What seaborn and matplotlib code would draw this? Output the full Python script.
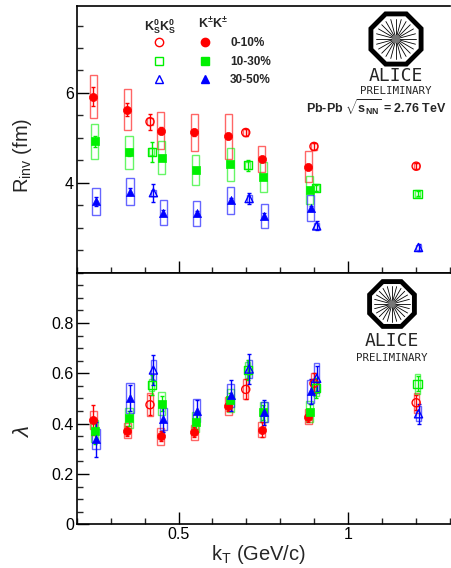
import numpy as np
import matplotlib
matplotlib.use("Agg")
import matplotlib.pyplot as plt
from matplotlib.patches import RegularPolygon
from matplotlib.lines import Line2D
import seaborn as sns

# ---- DATA ----
# charged kaons K+-K+-, kT bins
kt_ch_0_10 = [0.249, 0.349, 0.447, 0.547, 0.647, 0.745, 0.882]
kt_ch_10_30 = [0.253, 0.354, 0.450, 0.551, 0.652, 0.750, 0.887]
kt_ch_30_50 = [0.257, 0.357, 0.455, 0.554, 0.654, 0.753, 0.890]

# neutral kaons K0s K0s
kt_k0_0_10 = [0.416, 0.698, 0.899, 1.200]
kt_k0_10_30 = [0.421, 0.704, 0.905, 1.204]
kt_k0_30_50 = [0.426, 0.708, 0.907, 1.207]

# R_inv (fm)
r_ch_0_10 = [5.92, 5.63, 5.16, 5.12, 5.04, 4.52, 4.36]
r_ch_0_10_stat = [0.22, 0.15, 0.08, 0.07, 0.07, 0.06, 0.06]
r_ch_0_10_sys = [0.47, 0.45, 0.41, 0.41, 0.50, 0.29, 0.35]
r_ch_10_30 = [4.92, 4.68, 4.56, 4.28, 4.41, 4.13, 3.84]
r_ch_10_30_stat = [0.12, 0.08, 0.06, 0.06, 0.06, 0.05, 0.05]
r_ch_10_30_sys = [0.39, 0.37, 0.36, 0.34, 0.36, 0.33, 0.31]
r_ch_30_50 = [3.59, 3.80, 3.33, 3.32, 3.61, 3.26, 3.43]
r_ch_30_50_stat = [0.10, 0.08, 0.06, 0.06, 0.06, 0.06, 0.06]
r_ch_30_50_sys = [0.30, 0.30, 0.28, 0.28, 0.30, 0.27, 0.29]

r_k0_0_10 = [5.36, 5.12, 4.81, 4.37]
r_k0_0_10_stat = [0.18, 0.07, 0.07, 0.07]
r_k0_0_10_sys = [0.08, 0.07, 0.07, 0.07]
r_k0_10_30 = [4.69, 4.39, 3.89, 3.76]
r_k0_10_30_stat = [0.22, 0.12, 0.07, 0.06]
r_k0_10_30_sys = [0.08, 0.08, 0.08, 0.07]
r_k0_30_50 = [3.78, 3.65, 3.04, 2.56]
r_k0_30_50_stat = [0.20, 0.12, 0.10, 0.08]
r_k0_30_50_sys = [0.07, 0.07, 0.07, 0.06]

# lambda
l_ch_0_10 = [0.414, 0.371, 0.349, 0.365, 0.470, 0.375, 0.428]
l_ch_0_10_stat = [0.06, 0.02, 0.02, 0.02, 0.02, 0.03, 0.02]
l_ch_0_10_sys = [0.035, 0.030, 0.035, 0.030, 0.035, 0.030, 0.030]
l_ch_10_30 = [0.370, 0.421, 0.479, 0.408, 0.492, 0.445, 0.448]
l_ch_10_30_stat = [0.05, 0.03, 0.03, 0.03, 0.03, 0.03, 0.03]
l_ch_10_30_sys = [0.045, 0.040, 0.045, 0.040, 0.045, 0.040, 0.040]
l_ch_30_50 = [0.338, 0.502, 0.418, 0.452, 0.512, 0.445, 0.528]
l_ch_30_50_stat = [0.07, 0.05, 0.05, 0.04, 0.06, 0.05, 0.05]
l_ch_30_50_sys = [0.040, 0.060, 0.045, 0.045, 0.045, 0.040, 0.045]

l_k0_0_10 = [0.475, 0.536, 0.560, 0.483]
l_k0_0_10_stat = [0.04, 0.04, 0.04, 0.03]
l_k0_0_10_sys = [0.045, 0.040, 0.040, 0.040]
l_k0_10_30 = [0.553, 0.613, 0.540, 0.559]
l_k0_10_30_stat = [0.04, 0.04, 0.04, 0.03]
l_k0_10_30_sys = [0.025, 0.030, 0.030, 0.040]
l_k0_30_50 = [0.613, 0.617, 0.580, 0.439]
l_k0_30_50_stat = [0.06, 0.06, 0.05, 0.04]
l_k0_30_50_sys = [0.040, 0.035, 0.060, 0.030]

cent_labels = ["0-10%", "10-30%", "30-50%"]
colors = ["#ff0000", "#00f000", "#0000ff"]
markers = ["o", "s", "^"]

# ---- STYLE ----
sns.set_theme(style="ticks")
plt.rcParams["font.family"] = ["Liberation Sans", "DejaVu Sans"]
plt.rcParams["mathtext.fontset"] = "custom"
plt.rcParams["mathtext.rm"] = "Liberation Sans"
plt.rcParams["mathtext.bf"] = "Liberation Sans:bold"
plt.rcParams["mathtext.it"] = "Liberation Sans:italic"

fig = plt.figure(figsize=(4.51, 5.68), dpi=100)
ax1 = fig.add_axes([0.170, 0.520, 0.828, 0.469])
ax2 = fig.add_axes([0.170, 0.077, 0.828, 0.443], sharex=ax1)


def draw(ax, x, y, stat, sys, color, marker, filled, w):
    # sys boxes, stat bars, then markers
    ax.bar(x, 2 * np.array(sys), bottom=np.array(y) - np.array(sys), width=w,
           fill=False, edgecolor=color, linewidth=1.0, alpha=0.6, zorder=2)
    ax.errorbar(x, y, yerr=stat, fmt="none", ecolor=color, elinewidth=1.0,
                capsize=1.5, capthick=1.0, zorder=3)
    if filled:
        sns.scatterplot(x=x, y=y, ax=ax, marker=marker, s=34, color=color,
                        edgecolor=color, linewidth=0.5, legend=False, zorder=4)
    else:
        sns.scatterplot(x=x, y=y, ax=ax, marker=marker, s=34, color=color,
                        facecolor="none", edgecolor=color, linewidth=1.0,
                        legend=False, zorder=4)


ch_x = [kt_ch_0_10, kt_ch_10_30, kt_ch_30_50]
k0_x = [kt_k0_0_10, kt_k0_10_30, kt_k0_30_50]
r_ch = [(r_ch_0_10, r_ch_0_10_stat, r_ch_0_10_sys),
        (r_ch_10_30, r_ch_10_30_stat, r_ch_10_30_sys),
        (r_ch_30_50, r_ch_30_50_stat, r_ch_30_50_sys)]
r_k0 = [(r_k0_0_10, r_k0_0_10_stat, r_k0_0_10_sys),
        (r_k0_10_30, r_k0_10_30_stat, r_k0_10_30_sys),
        (r_k0_30_50, r_k0_30_50_stat, r_k0_30_50_sys)]
l_ch = [(l_ch_0_10, l_ch_0_10_stat, l_ch_0_10_sys),
        (l_ch_10_30, l_ch_10_30_stat, l_ch_10_30_sys),
        (l_ch_30_50, l_ch_30_50_stat, l_ch_30_50_sys)]
l_k0 = [(l_k0_0_10, l_k0_0_10_stat, l_k0_0_10_sys),
        (l_k0_10_30, l_k0_10_30_stat, l_k0_10_30_sys),
        (l_k0_30_50, l_k0_30_50_stat, l_k0_30_50_sys)]

for i in range(3):
    draw(ax1, ch_x[i], *r_ch[i], colors[i], markers[i], True, 0.021)
    draw(ax1, k0_x[i], *r_k0[i], colors[i], markers[i], False, 0.015)
    draw(ax2, ch_x[i], *l_ch[i], colors[i], markers[i], True, 0.021)
    draw(ax2, k0_x[i], *l_k0[i], colors[i], markers[i], False, 0.015)

# ---- AXES ----
ax1.set_xlim(0.2, 1.3)
ax1.set_ylim(2.0, 7.93)
ax2.set_ylim(0.0, 1.0)

for ax in (ax1, ax2):
    ax.spines["right"].set_visible(False)
    for s in ax.spines.values():
        s.set_linewidth(1.2)
        s.set_color("black")
    ax.tick_params(which="major", direction="in", length=8.5, width=1.0,
                   labelsize=11.5, colors="black", pad=2)
    ax.tick_params(which="minor", direction="in", length=4.3, width=1.0)
    ax.xaxis.set_major_locator(matplotlib.ticker.MultipleLocator(0.5))
    ax.xaxis.set_minor_locator(matplotlib.ticker.MultipleLocator(0.1))
    ax.xaxis.set_major_formatter(matplotlib.ticker.FormatStrFormatter("%g"))

ax1.set_yticks([4, 6])
ax1.yaxis.set_minor_locator(matplotlib.ticker.MultipleLocator(0.5))
ax2.set_yticks([0, 0.2, 0.4, 0.6, 0.8])
ax2.yaxis.set_minor_locator(matplotlib.ticker.MultipleLocator(0.05))
ax2.yaxis.set_major_formatter(matplotlib.ticker.FormatStrFormatter("%g"))
ax1.tick_params(labelbottom=False)

ax1.set_ylabel(r"R$_{\mathrm{inv}}$ (fm)", fontsize=14.5)
ax1.yaxis.set_label_coords(-0.115, 0.44)
ax2.set_ylabel(r"$\lambda$", fontsize=16)
ax2.yaxis.set_label_coords(-0.115, 0.37)
ax2.set_xlabel(r"k$_{\mathrm{T}}$ (GeV/c)", fontsize=14.5, labelpad=1)
ax2.xaxis.set_label_coords(0.486, -0.075)

# ---- LEGEND ----
handles = []
for i in range(3):
    handles.append(Line2D([], [], ls="none", marker=markers[i], ms=6,
                          mfc="none", mec=colors[i], mew=1.0))
for i in range(3):
    handles.append(Line2D([], [], ls="none", marker=markers[i], ms=6,
                          mfc=colors[i], mec=colors[i]))
ax1.legend(handles, ["", "", ""] + cent_labels, ncol=2, frameon=False,
           loc="upper left", bbox_to_anchor=(0.19, 0.905),
           prop={"weight": "bold", "size": 8.5}, handlelength=1.0,
           handletextpad=1.6, columnspacing=1.3, labelspacing=0.55,
           borderpad=0)
ax1.text(0.223, 0.925, r"$\mathbf{K^0_S K^0_S}$", transform=ax1.transAxes,
         fontsize=9, ha="center", va="center")
ax1.text(0.366, 0.935, r"$\mathbf{K^{\pm}K^{\pm}}$", transform=ax1.transAxes,
         fontsize=9, ha="center", va="center")
ax1.text(0.802, 0.618, r"Pb-Pb $\mathbf{\sqrt{s_{NN}}}$ = 2.76 TeV",
         transform=ax1.transAxes, fontsize=9, fontweight="bold",
         ha="center", va="center")


# ---- ALICE logos ----
def alice_logo(cx, cy, r_px, text_y, prel_y, big=13, small=7.8):
    W, H = 451.0, 568.0
    lax = fig.add_axes([(cx - r_px) / W, 1 - (cy + r_px) / H,
                        2 * r_px / W, 2 * r_px / H])
    lax.set_xlim(-1, 1)
    lax.set_ylim(-1, 1)
    lax.axis("off")
    lax.add_patch(RegularPolygon((0, 0), numVertices=8, radius=0.97,
                                 orientation=np.pi / 8, fill=False,
                                 edgecolor="black", linewidth=3.5))
    for a in np.linspace(0, 2 * np.pi, 24, endpoint=False):
        lax.plot([0.08 * np.cos(a), 0.72 * np.cos(a)],
                 [0.08 * np.sin(a), 0.72 * np.sin(a)],
                 color="black", lw=0.6)
    lax.add_patch(plt.Circle((0, 0), 0.12, color="#777777", zorder=3))
    fig.text(cx / W, 1 - text_y / H, "ALICE", fontsize=big,
             family="DejaVu Sans Mono", ha="center", va="center")
    fig.text(cx / W, 1 - prel_y / H, "PRELIMINARY", fontsize=small,
             family="DejaVu Sans Mono", ha="center", va="center")


alice_logo(396, 39, 28, 76, 91)
alice_logo(392, 304, 25, 341, 358)

fig.savefig("out.png", dpi=100)
